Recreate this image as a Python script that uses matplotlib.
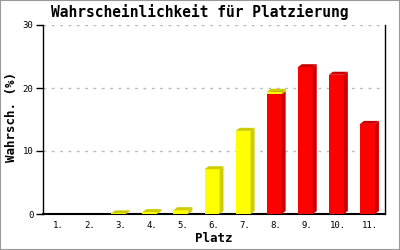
import matplotlib.pyplot as plt
from matplotlib.patches import Polygon, Rectangle

plaetze = ['1.', '2.', '3.', '4.', '5.', '6.', '7.', '8.', '9.', '10.', '11.']
gelb = [0, 0, 0.1, 0.3, 0.6, 7.1, 13.2, 0.4, 0, 0, 0]
rot = [0, 0, 0, 0, 0, 0, 0, 19.0, 23.3, 22.1, 14.3]

mono = 'DejaVu Sans Mono'
w = 0.48
dx = 0.13
dy = 0.48

fig = plt.figure(figsize=(4, 2.5), dpi=100)
fig.patch.set_facecolor('white')
fig.patches.append(Rectangle((0, 0), 1, 1, transform=fig.transFigure,
                             fill=False, edgecolor='#999999', linewidth=1.5))
ax = fig.add_axes([0.1075, 0.144, 0.855, 0.756])


def bar3d(x, b, h, front, side):
    if h <= 0:
        return
    x0 = x - w / 2 - dx / 2
    x1 = x0 + w
    t = b + h
    ax.add_patch(Rectangle((x0, b), w, h, facecolor=front, edgecolor='none', zorder=3))
    ax.add_patch(Polygon([(x1, b), (x1 + dx, b + dy), (x1 + dx, t + dy), (x1, t)],
                         closed=True, facecolor=side, edgecolor='none', zorder=3))
    ax.add_patch(Polygon([(x0, t), (x0 + dx, t + dy), (x1 + dx, t + dy), (x1, t)],
                         closed=True, facecolor=side, edgecolor='none', zorder=3))


for i in range(len(plaetze)):
    x = i + 1
    bar3d(x, 0, rot[i], '#ff0000', '#cc0000')
    bar3d(x, rot[i], gelb[i], '#ffff00', '#cccc00')

ax.set_xlim(0.5, 11.5)
ax.set_ylim(0, 30)
ax.set_yticks([0, 10, 20, 30])
ax.set_xticks(range(1, 12))
ax.set_xticklabels(plaetze)
ax.tick_params(axis='x', length=0, pad=5)
ax.tick_params(axis='y', length=5, width=1, direction='out', pad=2)
for lab in ax.get_xticklabels() + ax.get_yticklabels():
    lab.set_fontfamily(mono)
    lab.set_fontsize(6.5)
ax.yaxis.grid(True, color='#bbbbbb', linestyle=(0, (2, 4)), linewidth=1)
ax.set_axisbelow(True)
ax.spines['top'].set_visible(False)
ax.spines['left'].set_linewidth(1)
ax.spines['right'].set_linewidth(1)
ax.spines['bottom'].set_linewidth(1.5)

fig.text(0.5, 0.952, 'Wahrscheinlichkeit für Platzierung', ha='center', va='center',
         family=mono, fontweight='bold', fontsize=10.5)
fig.text(0.535, 0.045, 'Platz', ha='center', va='center',
         family=mono, fontweight='bold', fontsize=9)
fig.text(0.03, 0.53, 'Wahrsch. (%)', ha='center', va='center', rotation=90,
         family=mono, fontweight='bold', fontsize=9)

fig.savefig('out.png', dpi=100)
